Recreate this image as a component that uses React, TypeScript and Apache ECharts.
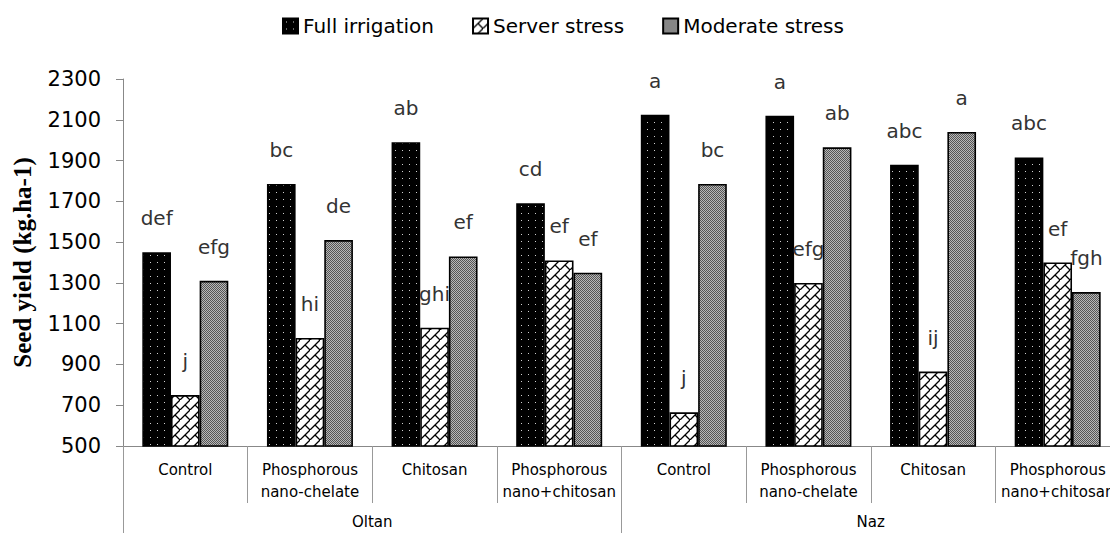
import React, { useEffect, useRef } from "react";
import * as echarts from "echarts";

const categories = [
  "Control",
  "Phosphorous\nnano-chelate",
  "Chitosan",
  "Phosphorous\nnano+chitosan",
  "Control",
  "Phosphorous\nnano-chelate",
  "Chitosan",
  "Phosphorous\nnano+chitosan",
];
const cultivars = ["Oltan", "Naz"];
const seriesNames = ["Full irrigation", "Server stress", "Moderate stress"];
const fullIrrigation = [1450, 1785, 1990, 1690, 2125, 2120, 1880, 1915];
const severeStress = [750, 1030, 1080, 1410, 665, 1300, 865, 1400];
const moderateStress = [1310, 1510, 1430, 1350, 1785, 1965, 2040, 1255];
const fullLetters = ["def", "bc", "ab", "cd", "a", "a", "abc", "abc"];
const severeLetters = ["j", "hi", "ghi", "ef", "j", "efg", "ij", "ef"];
const moderateLetters = ["efg", "de", "ef", "ef", "bc", "ab", "a", "fgh"];
const yTicks = { min: 500, max: 2300, interval: 200 };

function makeDots(): string {
  const c = document.createElement("canvas");
  c.width = 7;
  c.height = 7;
  const g = c.getContext("2d")!;
  g.fillStyle = "#000";
  g.fillRect(0, 0, 7, 7);
  g.fillStyle = "#d0d0d0";
  g.fillRect(3, 3, 1, 1);
  return c.toDataURL();
}
function makeBrick(): string {
  const c = document.createElement("canvas");
  c.width = 10;
  c.height = 10;
  const g = c.getContext("2d")!;
  g.fillStyle = "#fff";
  g.fillRect(0, 0, 10, 10);
  g.strokeStyle = "#000";
  g.lineWidth = 1.3;
  g.beginPath();
  g.moveTo(-1, 11);
  g.lineTo(11, -1);
  g.moveTo(5, 5);
  g.lineTo(11, 11);
  g.stroke();
  return c.toDataURL();
}
function makeChecker(): string {
  const c = document.createElement("canvas");
  c.width = 2;
  c.height = 2;
  const g = c.getContext("2d")!;
  g.fillStyle = "#b8b8b8";
  g.fillRect(0, 0, 2, 2);
  g.fillStyle = "#555";
  g.fillRect(0, 0, 1, 1);
  g.fillRect(1, 1, 1, 1);
  return c.toDataURL();
}

export default function App() {
  const ref = useRef<HTMLDivElement>(null);
  useEffect(() => {
    document.body.style.margin = "0";
    const chart = echarts.init(ref.current!, null, { renderer: "svg" });
    const patterns = [makeDots(), makeBrick(), makeChecker()];
    const values = [fullIrrigation, severeStress, moderateStress];
    const letters = [fullLetters, severeLetters, moderateLetters];
    const font = "DejaVu Sans";
    chart.setOption({
      animation: false,
      legend: {
        top: 11,
        left: 277,
        itemWidth: 15,
        itemHeight: 15,
        itemGap: 38,
        icon: "rect",
        textStyle: { fontFamily: font, fontSize: 20, color: "#000", padding: [0, 0, 0, 0] },
        data: seriesNames,
      },
      grid: {
        left: 123,
        right: -10,
        top: 79,
        bottom: 87,
        containLabel: false,
        outerBoundsMode: "none",
      },
      xAxis: [
        {
          type: "category",
          data: categories,
          position: "bottom",
          axisLine: { lineStyle: { color: "#888", width: 1 } },
          axisTick: { show: true, interval: 0, length: 57, lineStyle: { color: "#999" } },
          axisLabel: {
            interval: 0,
            margin: 13,
            fontFamily: font,
            fontSize: 15,
            lineHeight: 22,
            color: "#000",
          },
        },
        {
          type: "category",
          data: cultivars,
          position: "bottom",
          axisLine: { show: false },
          axisTick: { show: true, interval: 0, length: 90, lineStyle: { color: "#999" } },
          axisLabel: { margin: 68, fontFamily: font, fontSize: 15, color: "#000" },
        },
      ],
      yAxis: {
        type: "value",
        min: yTicks.min,
        max: yTicks.max,
        interval: yTicks.interval,
        name: "Seed yield (kg.ha-1)",
        nameLocation: "middle",
        nameGap: 88,
        nameRotate: 90,
        nameTextStyle: {
          fontFamily: "Liberation Serif",
          fontWeight: "bold",
          fontSize: 25,
          color: "#000",
        },
        axisLine: { show: true, lineStyle: { color: "#888" } },
        axisTick: { show: true, length: 7, lineStyle: { color: "#888" } },
        splitLine: { show: false },
        axisLabel: {
          fontFamily: font,
          fontSize: 21,
          color: "#000",
          margin: 22,
          formatter: (v: number) => String(v),
        },
      },
      series: seriesNames.map((name, i) => ({
        name,
        type: "bar",
        xAxisIndex: 0,
        barGap: "0%",
        barCategoryGap: "31%",
        data: values[i],
        itemStyle: {
          color: { image: patterns[i], repeat: "repeat" },
          borderColor: "#000",
          borderWidth: 1.6,
        },
        label: {
          show: true,
          position: "top",
          distance: 24,
          fontFamily: font,
          fontSize: 20,
          color: "#333",
          formatter: (p: any) => letters[i][p.dataIndex],
        },
      })),
    });
    return () => chart.dispose();
  }, []);
  return <div ref={ref} style={{ width: 1110, height: 533 }} />;
}
